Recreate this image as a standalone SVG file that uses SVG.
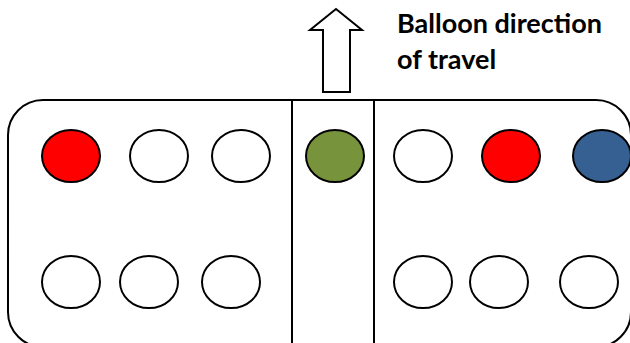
<svg xmlns="http://www.w3.org/2000/svg" width="630" height="343" viewBox="0 0 630 343">
  <style>
    .frame { fill: none; stroke: #000; stroke-width: 2; }
    .seat { stroke: #000; stroke-width: 2; }
    .empty { fill: #fff; }
    .red { fill: #ff0000; }
    .green { fill: #77933c; }
    .blue { fill: #376092; }
    .label { font-family: "Lato", "Open Sans", "Liberation Sans", sans-serif; font-weight: bold; font-size: 27px; fill: #000; }
  </style>
  <rect width="630" height="343" fill="#fff"/>

  <!-- basket outline and dividers -->
  <g id="basket">
    <rect class="frame" x="8" y="100" width="623" height="247" rx="35" ry="35"/>
    <line class="frame" x1="292" y1="100" x2="292" y2="345"/>
    <line class="frame" x1="374" y1="100" x2="374" y2="345"/>
  </g>

  <!-- direction arrow -->
  <g id="arrow">
    <polygon points="336,9 362,30 350,30 350,92 323,92 323,30 310,30" fill="#fff" stroke="#000" stroke-width="2" stroke-linejoin="miter"/>
  </g>

  <g id="label">
    <text class="label" x="397" y="33">Balloon direction</text>
    <text class="label" x="397" y="69">of travel</text>
  </g>

  <!-- top row -->
  <g id="seat-t1"><ellipse class="seat red" cx="71" cy="156" rx="29" ry="26"/></g>
  <g id="seat-t2"><ellipse class="seat empty" cx="159" cy="156" rx="29" ry="26"/></g>
  <g id="seat-t3"><ellipse class="seat empty" cx="241" cy="156" rx="29" ry="26"/></g>
  <g id="seat-t4"><ellipse class="seat green" cx="335" cy="156" rx="29" ry="26"/></g>
  <g id="seat-t5"><ellipse class="seat empty" cx="423" cy="156" rx="29" ry="26"/></g>
  <g id="seat-t6"><ellipse class="seat red" cx="511" cy="156" rx="29" ry="26"/></g>
  <g id="seat-t7"><ellipse class="seat blue" cx="602" cy="156" rx="29" ry="26"/></g>

  <!-- bottom row -->
  <g id="seat-b1"><ellipse class="seat empty" cx="71" cy="282" rx="29" ry="26"/></g>
  <g id="seat-b2"><ellipse class="seat empty" cx="149" cy="282" rx="29" ry="26"/></g>
  <g id="seat-b3"><ellipse class="seat empty" cx="231" cy="282" rx="29" ry="26"/></g>
  <g id="seat-b4"><ellipse class="seat empty" cx="423" cy="282" rx="29" ry="26"/></g>
  <g id="seat-b5"><ellipse class="seat empty" cx="499" cy="282" rx="29" ry="26"/></g>
  <g id="seat-b6"><ellipse class="seat empty" cx="589" cy="282" rx="29" ry="26"/></g>
</svg>
